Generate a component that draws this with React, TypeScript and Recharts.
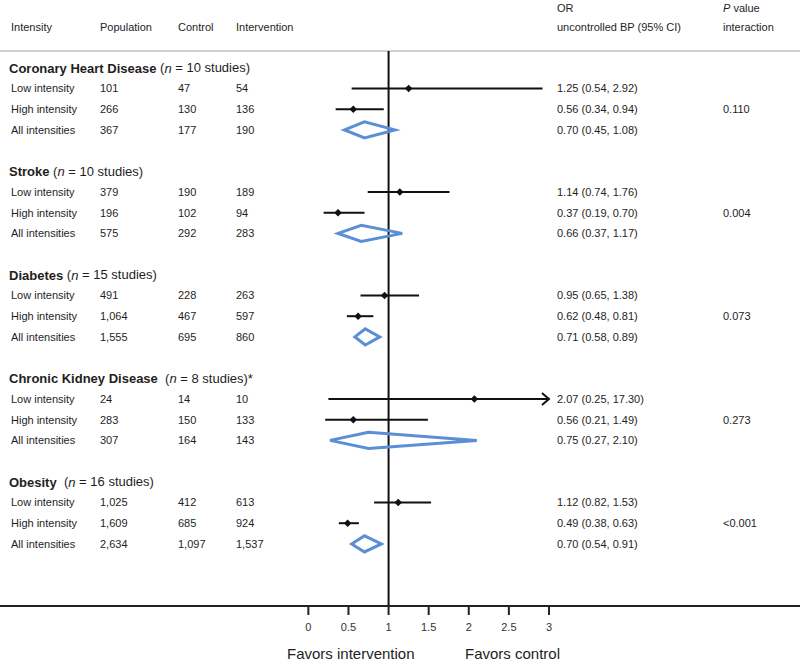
import { ComposedChart, ErrorBar, Line, ReferenceLine, Scatter, XAxis, YAxis } from 'recharts';

const FONT = '"Liberation Sans", Arial, sans-serif';
const TEXT = '#1e1e1e';
const BLUE = '#5b8fd5';

// table content
const groupNames = ['Coronary Heart Disease', 'Stroke', 'Diabetes', 'Chronic Kidney Disease', 'Obesity'];
const groupStudies = [10, 10, 15, 8, 16];
const groupSpacer = [' ', ' ', ' ', '  ', '  '];
const groupNotes = ['', '', '', '*', ''];
const pInteraction = ['0.110', '0.004', '0.073', '0.273', '<0.001'];
const intensityLabels = ['Low intensity', 'High intensity', 'All intensities'];

const population = [
  ['101', '266', '367'],
  ['379', '196', '575'],
  ['491', '1,064', '1,555'],
  ['24', '283', '307'],
  ['1,025', '1,609', '2,634'],
];
const control = [
  ['47', '130', '177'],
  ['190', '102', '292'],
  ['228', '467', '695'],
  ['14', '150', '164'],
  ['412', '685', '1,097'],
];
const intervention = [
  ['54', '136', '190'],
  ['189', '94', '283'],
  ['263', '597', '860'],
  ['10', '133', '143'],
  ['613', '924', '1,537'],
];

// odds ratios (low, high, all)
const orEst = [
  [1.25, 0.56, 0.7],
  [1.14, 0.37, 0.66],
  [0.95, 0.62, 0.71],
  [2.07, 0.56, 0.75],
  [1.12, 0.49, 0.7],
];
const orLow = [
  [0.54, 0.34, 0.45],
  [0.74, 0.19, 0.37],
  [0.65, 0.48, 0.58],
  [0.25, 0.21, 0.27],
  [0.82, 0.38, 0.54],
];
const orHigh = [
  [2.92, 0.94, 1.08],
  [1.76, 0.7, 1.17],
  [1.38, 0.81, 0.89],
  [17.3, 1.49, 2.1],
  [1.53, 0.63, 0.91],
];

const xTicks = [0, 0.5, 1, 1.5, 2, 2.5, 3];
const xMaxShown = 3;

// row positions in "row units" (0 = first group header)
const headerRowTop = -2.87;
const headerRowBottom = -1.99;
const ruleRow = -0.81;
const axisRow = 26;
const groupStep = 5;
const diamondHalf = 0.39;

const rowY = (g: number, i: number) => g * groupStep + i + 1;
const fmt = (v: number) => v.toFixed(2);

const tableData: any[] = [{ x: 0, y: headerRowTop, kind: 'head1' }, { x: 0, y: headerRowBottom, kind: 'head2' }];
groupNames.forEach((_, g) => {
  tableData.push({ x: 0, y: g * groupStep, kind: 'group', g });
  intensityLabels.forEach((__, i) => tableData.push({ x: 0, y: rowY(g, i), kind: 'row', g, i }));
});

const pointData: any[] = [];
const arrowData: any[] = [];
groupNames.forEach((_, g) => {
  [0, 1].forEach((i) => {
    const est = orEst[g][i];
    const hi = Math.min(orHigh[g][i], xMaxShown);
    pointData.push({ x: est, y: rowY(g, i), err: [est - orLow[g][i], hi - est] });
    if (orHigh[g][i] > xMaxShown) arrowData.push({ x: xMaxShown, y: rowY(g, i) });
  });
});

const diamonds = groupNames.map((_, g) => {
  const y = rowY(g, 2);
  const est = orEst[g][2];
  const lo = orLow[g][2];
  const hi = orHigh[g][2];
  return [
    { x: lo, y },
    { x: est, y: y - diamondHalf },
    { x: hi, y },
    { x: est, y: y + diamondHalf },
    { x: lo, y },
    { x: est, y: y - diamondHalf },
  ];
});

const COL = { label: 11, pop: 100, ctrl: 178, int: 236, or: 557, p: 723 };

const Txt = ({ x, y, children, ...rest }: any) => (
  <text x={x} y={y} dominantBaseline="central" fontSize={11} fill={TEXT} fontFamily={FONT} style={{ whiteSpace: 'pre' }} {...rest}>
    {children}
  </text>
);

const TableCell = (props: any) => {
  const { cy, payload } = props;
  if (payload.kind === 'head1') {
    return (
      <g>
        <Txt x={COL.or} y={cy}>OR</Txt>
        <Txt x={COL.p} y={cy}>
          <tspan fontStyle="italic">P</tspan> value
        </Txt>
      </g>
    );
  }
  if (payload.kind === 'head2') {
    return (
      <g>
        <Txt x={COL.label} y={cy}>Intensity</Txt>
        <Txt x={COL.pop} y={cy}>Population</Txt>
        <Txt x={COL.ctrl} y={cy}>Control</Txt>
        <Txt x={COL.int} y={cy}>Intervention</Txt>
        <Txt x={COL.or} y={cy}>uncontrolled BP (95% CI)</Txt>
        <Txt x={COL.p} y={cy}>interaction</Txt>
      </g>
    );
  }
  const g = payload.g;
  if (payload.kind === 'group') {
    return (
      <Txt x={COL.label - 2} y={cy} fontSize={13}>
        <tspan fontWeight="bold">{groupNames[g]}</tspan>
        {groupSpacer[g]}(<tspan fontStyle="italic">n</tspan> = {groupStudies[g]} studies){groupNotes[g]}
      </Txt>
    );
  }
  const i = payload.i;
  return (
    <g>
      <Txt x={COL.label} y={cy}>{intensityLabels[i]}</Txt>
      <Txt x={COL.pop} y={cy}>{population[g][i]}</Txt>
      <Txt x={COL.ctrl} y={cy}>{control[g][i]}</Txt>
      <Txt x={COL.int} y={cy}>{intervention[g][i]}</Txt>
      <Txt x={COL.or} y={cy}>
        {`${fmt(orEst[g][i])} (${fmt(orLow[g][i])}, ${fmt(orHigh[g][i])})`}
      </Txt>
      {i === 1 && <Txt x={COL.p} y={cy}>{pInteraction[g]}</Txt>}
    </g>
  );
};

const PointMark = ({ cx, cy }: any) => (
  <polygon points={`${cx - 3.8},${cy} ${cx},${cy - 3.8} ${cx + 3.8},${cy} ${cx},${cy + 3.8}`} fill="#111" />
);

const ArrowMark = ({ cx, cy }: any) => (
  <path d={`M${cx - 7},${cy - 6} L${cx},${cy} L${cx - 7},${cy + 6}`} fill="none" stroke="#111" strokeWidth={2} />
);

export default function App() {
  return (
    <div style={{ position: 'absolute', left: 0, top: 0, width: 800, height: 663, background: '#fff' }}>
      <ComposedChart width={800} height={663} margin={{ top: 0, right: 0, bottom: 0, left: 0 }}>
        <XAxis
          type="number"
          dataKey="x"
          domain={[-3.845, 6.13]}
          allowDataOverflow
          ticks={xTicks}
          interval={0}
          height={57}
          axisLine={{ stroke: '#222', strokeWidth: 2 }}
          tickLine={{ stroke: '#222', strokeWidth: 2 }}
          tickSize={9}
          tickMargin={8}
          tick={{ fontSize: 11, fill: '#333', fontFamily: FONT }}
        />
        <YAxis type="number" dataKey="y" domain={[-3.275, axisRow]} reversed hide allowDataOverflow />
        <ReferenceLine y={ruleRow} stroke="#d0d0d0" strokeWidth={2} />
        <ReferenceLine
          segment={[
            { x: 1, y: ruleRow },
            { x: 1, y: axisRow },
          ]}
          stroke="#111"
          strokeWidth={2}
        />
        <Scatter data={tableData} shape={<TableCell />} isAnimationActive={false} />
        {diamonds.map((d, k) => (
          <Line
            key={k}
            data={d}
            dataKey="y"
            type="linear"
            stroke={BLUE}
            strokeWidth={3}
            dot={false}
            activeDot={false}
            isAnimationActive={false}
          />
        ))}
        <Scatter data={pointData} shape={<PointMark />} isAnimationActive={false}>
          <ErrorBar dataKey="err" direction="x" width={0} stroke="#111" strokeWidth={2} />
        </Scatter>
        <Scatter data={arrowData} shape={<ArrowMark />} isAnimationActive={false} />
      </ComposedChart>
      <div style={{ position: 'absolute', left: 287, top: 645, fontFamily: FONT, fontSize: 15, lineHeight: '17px', color: TEXT, whiteSpace: 'nowrap' }}>
        Favors intervention
      </div>
      <div style={{ position: 'absolute', left: 465, top: 645, fontFamily: FONT, fontSize: 15, lineHeight: '17px', color: TEXT, whiteSpace: 'nowrap' }}>
        Favors control
      </div>
    </div>
  );
}
